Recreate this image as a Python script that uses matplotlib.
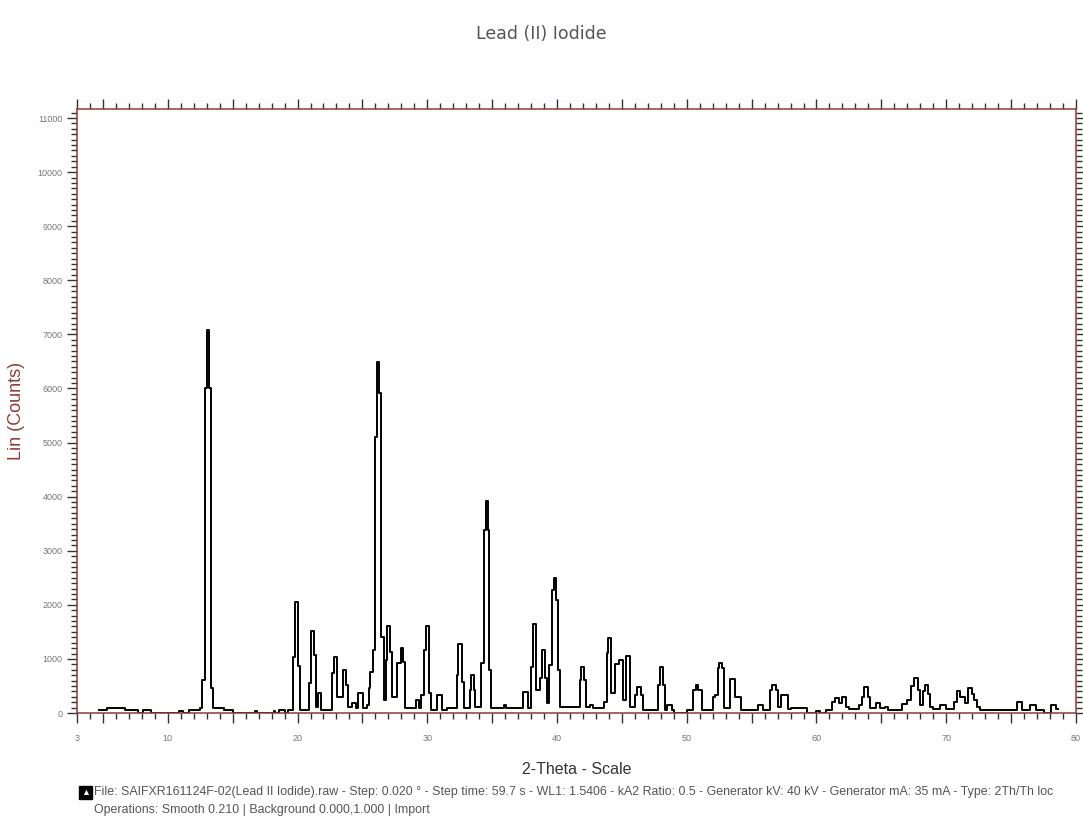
import numpy as np
import matplotlib
matplotlib.use("Agg")
import matplotlib.pyplot as plt
from matplotlib.ticker import FixedLocator, MultipleLocator

# step levels: (left edge of step in 2-theta, counts)
scan_steps = [
    (4.7, 55), (5.35, 90), (6.7, 55), (7.7, 0), (8.05, 55), (8.7, 0),
    (10.85, 40), (11.2, 0), (11.6, 55), (12.5, 90), (12.67, 610),
    (12.85, 6000), (13.0, 7080), (13.18, 6000), (13.3, 460), (13.5, 90),
    (14.3, 60), (15.0, 0), (16.75, 40), (16.9, 0), (18.15, 40), (18.3, 0),
    (18.6, 55), (19.0, 0), (19.3, 55),
    (19.68, 1040), (19.81, 2060), (20.04, 870), (20.19, 55),
    (20.9, 560), (21.07, 1520), (21.27, 1070), (21.43, 120), (21.58, 370),
    (21.83, 55), (22.69, 740), (22.82, 1040), (23.07, 300), (23.5, 800),
    (23.72, 520), (23.9, 120), (24.18, 190), (24.48, 90), (24.69, 370),
    (25.07, 90), (25.35, 150), (25.5, 460), (25.62, 760), (25.78, 1160),
    (25.98, 5110), (26.12, 6490), (26.25, 5910), (26.4, 1410), (26.67, 240),
    (26.8, 980), (26.93, 1600), (27.13, 1130), (27.3, 300), (27.7, 920),
    (27.95, 1200), (28.13, 950), (28.25, 90), (29.1, 240), (29.36, 90),
    (29.5, 330), (29.75, 1160), (29.91, 1600), (30.1, 370), (30.26, 55),
    (30.78, 330), (31.16, 55), (31.5, 90),
    (32.26, 700), (32.4, 1270), (32.7, 580), (32.85, 90), (33.26, 420),
    (33.4, 700), (33.6, 420), (33.7, 110), (34.17, 920), (34.4, 3380),
    (34.52, 3920), (34.67, 3380), (34.75, 790), (34.94, 90), (35.95, 150),
    (36.1, 90), (37.4, 380), (37.76, 90), (37.97, 850), (38.15, 1650),
    (38.4, 430), (38.7, 640), (38.86, 1170), (39.04, 650), (39.2, 190),
    (39.4, 890), (39.64, 2270), (39.8, 2490), (39.95, 2090), (40.1, 790),
    (40.2, 110), (41.74, 610), (41.87, 850), (42.08, 610), (42.2, 110),
    (42.55, 150), (42.75, 90), (43.6, 200), (43.82, 1110), (43.95, 1390),
    (44.13, 370), (44.5, 900), (44.75, 980), (45.1, 240), (45.3, 1050),
    (45.6, 110), (46.0, 330), (46.15, 480), (46.45, 330), (46.6, 55),
    (47.8, 520), (47.97, 850), (48.2, 520), (48.35, 55), (48.5, 150),
    (48.85, 55), (49.0, 0), (50.0, 55), (50.5, 430), (50.75, 520),
    (50.9, 430), (51.2, 55), (52.0, 300), (52.2, 330), (52.4, 830),
    (52.5, 920), (52.7, 830), (52.85, 90), (53.3, 630), (53.7, 300),
    (54.15, 55), (55.5, 150), (55.9, 55), (56.4, 430), (56.6, 520),
    (56.85, 430), (57.0, 110), (57.3, 330), (57.8, 70), (58.0, 90),
    (59.3, 0), (60.0, 45), (60.3, 0), (60.7, 55), (61.2, 200), (61.45, 280),
    (61.7, 180), (62.0, 300), (62.3, 120), (62.5, 80), (63.3, 150),
    (63.5, 300), (63.7, 490), (63.95, 300), (64.1, 90), (64.6, 190),
    (64.9, 90), (65.3, 120), (65.55, 60), (66.6, 160), (66.97, 250),
    (67.3, 500), (67.5, 640), (67.8, 420), (67.95, 150), (68.2, 400),
    (68.35, 520), (68.6, 350), (68.75, 120), (69.0, 70), (69.55, 150),
    (69.95, 70), (70.6, 200), (70.85, 410), (71.1, 300), (71.45, 190),
    (71.7, 470), (71.95, 350), (72.15, 250), (72.35, 120), (72.6, 60),
    (75.45, 210), (75.85, 60), (76.45, 140), (76.9, 60), (77.5, 0),
    (78.05, 150), (78.45, 70), (78.65, 70),
]
two_theta = [s[0] for s in scan_steps]
counts = [s[1] for s in scan_steps]

x_ticks = [3] + list(range(5, 81, 5))
y_majors = list(range(0, 11001, 1000))

title = "Lead (II) Iodide"
footer1 = ("File: SAIFXR161124F-02(Lead II Iodide).raw - Step: 0.020 \u00b0 - Step time: 59.7 s - "
           "WL1: 1.5406 - kA2 Ratio: 0.5 - Generator kV: 40 kV - Generator mA: 35 mA - Type: 2Th/Th loc")
footer2 = "Operations: Smooth 0.210 | Background 0.000,1.000 | Import"

plt.rcParams['font.family'] = ['Liberation Sans', 'DejaVu Sans']
axis_red = "#8e3b35"

fig = plt.figure(figsize=(10.83, 8.21), dpi=100)
ax = fig.add_axes([0.0711, 0.1315, 0.9224, 0.7357])

ax.step(two_theta, counts, where='post', color='black', lw=1.4, zorder=2)

ax.set_xlim(3, 80)
ax.set_ylim(0, 11166)

for sp in ax.spines.values():
    sp.set_color(axis_red)
    sp.set_linewidth(1.1)
    sp.set_zorder(3)

ax.xaxis.set_major_locator(FixedLocator(x_ticks))
ax.set_xticklabels(["3" if v == 3 else (str(v) if v % 10 == 0 else "") for v in x_ticks])
ax.xaxis.set_minor_locator(MultipleLocator(1))
ax.yaxis.set_major_locator(FixedLocator(y_majors))
ax.set_yticklabels([str(v) for v in y_majors])
ax.yaxis.set_minor_locator(MultipleLocator(100))

ax.tick_params(axis='both', which='both', direction='out', colors='#333333',
               top=True, right=True, labelsize=6.5, labelcolor='#777777')
ax.tick_params(axis='both', which='major', length=7, width=1)
ax.tick_params(axis='both', which='minor', length=4, width=1)
ax.tick_params(axis='x', pad=8)

ax.set_ylabel("Lin (Counts)", color=axis_red, fontsize=13)
ax.yaxis.set_label_coords(-0.052, 0.5)
ax.set_xlabel("2-Theta - Scale", fontsize=11.5, color='#333333', labelpad=14)

fig.text(0.5, 0.958, title, ha='center', va='center', fontsize=12.5,
         color='#555555', fontfamily='DejaVu Sans')

fig.text(0.075, 0.035, "\u25b2", fontsize=6.5, color='white', va='center', ha='left',
         bbox=dict(boxstyle='square,pad=0.2', fc='black', ec='black'))
fig.text(0.087, 0.035, footer1, fontsize=8.9, color='#555555', va='center', ha='left')
fig.text(0.087, 0.014, footer2, fontsize=8.9, color='#555555', va='center', ha='left')

fig.savefig("out.png", dpi=100, facecolor='white')
